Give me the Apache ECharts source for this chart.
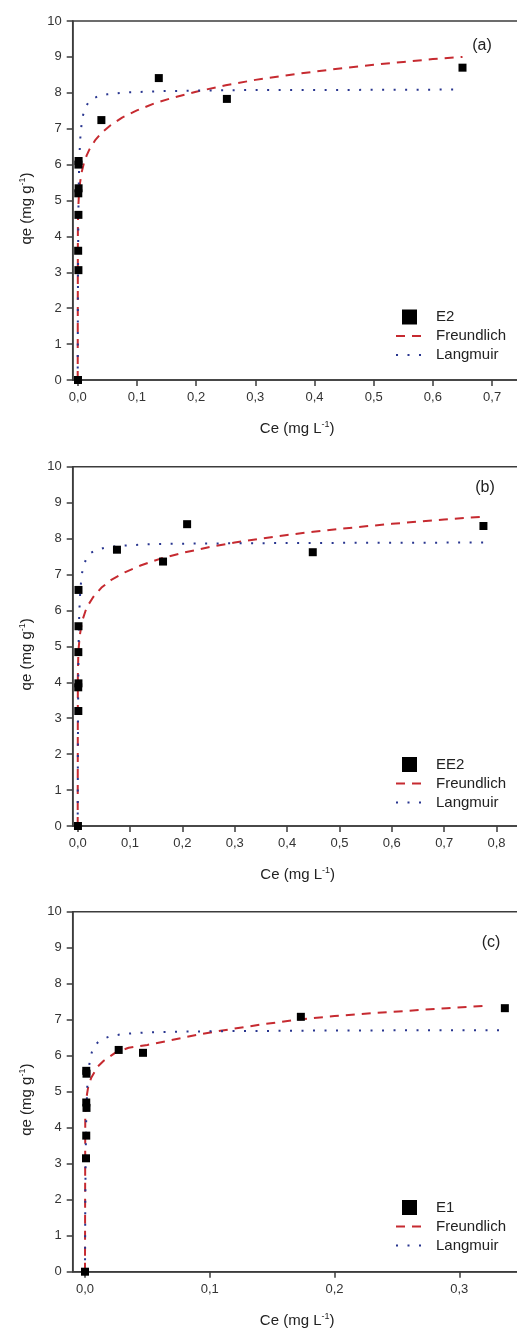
<!DOCTYPE html>
<html>
<head>
<meta charset="utf-8">
<title>Isotermas E2 / EE2 / E1</title>
<script src="https://cdn.jsdelivr.net/npm/echarts@6/dist/echarts.min.js"></script>
<style>
  html, body { margin: 0; padding: 0; background: #fff; }
  #grafico { width: 517px; height: 1331px; }
</style>
</head>
<body>
<div id="grafico"></div>
<script>
// ---- (a) E2 ----
const ceE2 = [0.0005, 0.0012, 0.0008, 0.0012, 0.0010, 0.0015, 0.0012, 0.0015, 0.040, 0.137, 0.252, 0.650];
const qeE2 = [0.00, 3.06, 3.60, 4.60, 5.20, 5.34, 6.00, 6.10, 7.24, 8.41, 7.83, 8.70];
const ceFreundA = [0, 0.0003, 0.001, 0.002, 0.004, 0.007, 0.01, 0.015, 0.02, 0.03, 0.04, 0.055, 0.075, 0.1, 0.13, 0.16, 0.2, 0.25, 0.3, 0.35, 0.4, 0.45, 0.5, 0.55, 0.6, 0.65];
const qeFreundA = [0, 4.28, 4.81, 5.14, 5.50, 5.81, 6.01, 6.25, 6.43, 6.69, 6.88, 7.09, 7.31, 7.51, 7.71, 7.86, 8.03, 8.21, 8.36, 8.48, 8.59, 8.69, 8.78, 8.86, 8.94, 9.00];
const ceLangA = [0, 0.0003, 0.0007, 0.0012, 0.002, 0.003, 0.005, 0.008, 0.012, 0.018, 0.025, 0.035, 0.05, 0.08, 0.15, 0.3, 0.45, 0.636];
const qeLangA = [0, 2.09, 3.63, 4.71, 5.66, 6.29, 6.91, 7.31, 7.56, 7.73, 7.83, 7.91, 7.96, 8.01, 8.05, 8.08, 8.08, 8.09];

// ---- (b) EE2 ----
const ceEE2 = [0.0005, 0.0012, 0.0010, 0.0014, 0.0012, 0.0015, 0.0015, 0.075, 0.163, 0.209, 0.449, 0.775];
const qeEE2 = [0.00, 3.20, 3.86, 3.97, 4.84, 5.56, 6.57, 7.69, 7.36, 8.40, 7.62, 8.35];
const ceFreundB = [0, 0.0003, 0.001, 0.002, 0.004, 0.007, 0.01, 0.015, 0.02, 0.03, 0.045, 0.065, 0.09, 0.12, 0.16, 0.2, 0.25, 0.3, 0.35, 0.4, 0.45, 0.5, 0.55, 0.6, 0.65, 0.7, 0.775];
const qeFreundB = [0, 4.18, 4.67, 4.98, 5.30, 5.58, 5.77, 5.99, 6.15, 6.38, 6.63, 6.86, 7.06, 7.25, 7.45, 7.60, 7.76, 7.89, 8.00, 8.10, 8.19, 8.27, 8.34, 8.41, 8.47, 8.53, 8.61];
const ceLangB = [0, 0.0003, 0.0007, 0.0012, 0.002, 0.003, 0.005, 0.008, 0.012, 0.018, 0.025, 0.035, 0.05, 0.08, 0.15, 0.3, 0.5, 0.775];
const qeLangB = [0, 1.82, 3.25, 4.31, 5.27, 5.93, 6.58, 7.02, 7.29, 7.48, 7.60, 7.68, 7.74, 7.80, 7.85, 7.87, 7.88, 7.89];

// ---- (c) E1 ----
const ceE1 = [0.0000, 0.0008, 0.0010, 0.0012, 0.0010, 0.0012, 0.0010, 0.027, 0.0465, 0.173, 0.3365];
const qeE1 = [0.00, 3.15, 3.78, 4.55, 4.70, 5.50, 5.58, 6.16, 6.08, 7.08, 7.32];
const ceFreundC = [0, 0.0002, 0.0006, 0.0012, 0.0025, 0.005, 0.01, 0.015, 0.025, 0.035, 0.05, 0.065, 0.085, 0.11, 0.14, 0.17, 0.2, 0.23, 0.26, 0.29, 0.323];
const qeFreundC = [0, 4.23, 4.60, 4.84, 5.12, 5.39, 5.69, 5.86, 6.10, 6.22, 6.30, 6.40, 6.55, 6.70, 6.86, 7.00, 7.10, 7.18, 7.25, 7.32, 7.39];
const ceLangC = [0, 0.0002, 0.0005, 0.001, 0.0018, 0.0027, 0.004, 0.0055, 0.0075, 0.01, 0.014, 0.02, 0.03, 0.05, 0.1, 0.2, 0.335];
const qeLangC = [0, 1.76, 3.16, 4.30, 5.12, 5.56, 5.89, 6.10, 6.25, 6.36, 6.46, 6.54, 6.60, 6.65, 6.68, 6.70, 6.71];

// ticks del eje X
const ticksA = [0, 0.1, 0.2, 0.3, 0.4, 0.5, 0.6, 0.7];
const ticksB = [0, 0.1, 0.2, 0.3, 0.4, 0.5, 0.6, 0.7, 0.8];
const ticksC = [0, 0.1, 0.2, 0.3];

const FONT = 'Liberation Sans, Arial, sans-serif';
const AXIS_COLOR = '#3c3c3c';
const RED = '#c62a30';
const BLUE = '#28358f';

const zip = (xs, ys) => xs.map((x, i) => [x, ys[i]]);
const coma = v => v.toFixed(1).replace('.', ',');

function ejeX(grid, min, max, ticks) {
    return {
        type: 'value', gridIndex: grid, min: min, max: max,
        name: 'Ce (mg L{sup|-1})', nameLocation: 'middle', nameGap: 40,
        nameTextStyle: {
            fontSize: 15, color: '#222', fontFamily: FONT, lineHeight: 18,
            rich: { sup: { fontSize: 9, verticalAlign: 'top', lineHeight: 10, color: '#222', fontFamily: FONT } }
        },
        splitLine: { show: false },
        axisLine: { onZero: false, lineStyle: { color: AXIS_COLOR, width: 1.5 } },
        axisTick: { customValues: ticks, length: 6, lineStyle: { color: AXIS_COLOR, width: 1.5 } },
        axisLabel: { customValues: ticks, formatter: coma, fontSize: 13, color: '#333', fontFamily: FONT, margin: 11 }
    };
}

function ejeY(grid) {
    return {
        type: 'value', gridIndex: grid, min: 0, max: 10, interval: 1,
        name: 'qe (mg g{sup|-1})', nameLocation: 'middle', nameGap: 36,
        nameTextStyle: {
            fontSize: 15, color: '#222', fontFamily: FONT, lineHeight: 18, padding: [0, 16, 0, 0],
            rich: { sup: { fontSize: 9, verticalAlign: 'top', lineHeight: 10, color: '#222', fontFamily: FONT } }
        },
        splitLine: { show: false },
        axisLine: { show: true, onZero: false, lineStyle: { color: AXIS_COLOR, width: 1.5 } },
        axisTick: { show: true, length: 6, lineStyle: { color: AXIS_COLOR, width: 1.5 } },
        axisLabel: { fontSize: 13, color: '#333', fontFamily: FONT, margin: 11 }
    };
}

function serie(name, grid, data, kind) {
    if (kind === 'pts') {
        return { name: name, type: 'scatter', xAxisIndex: grid, yAxisIndex: grid, data: data,
            symbol: 'rect', symbolSize: 8, itemStyle: { color: '#000', opacity: 1 }, z: 5 };
    }
    const dashed = kind === 'freund';
    return {
        name: name, type: 'line', xAxisIndex: grid, yAxisIndex: grid, data: data,
        showSymbol: false, symbol: 'none',
        itemStyle: { color: dashed ? RED : BLUE },
        lineStyle: dashed
            ? { color: RED, width: 2, type: [9, 7] }
            : { color: BLUE, width: 2, type: [2, 9.5] }
    };
}

// leyenda: cuadrado para los puntos, solo trazo para los modelos
const SQUARE = 'path://M0,0L10,0L10,10L0,10Z';
const sinSimbolo = { opacity: 0 };
function leyenda(top, first) {
    return {
        orient: 'vertical', left: 390, top: top,
        itemWidth: 27, itemHeight: 15, itemGap: 3,
        textStyle: { fontSize: 15, color: '#222', fontFamily: FONT, lineHeight: 16, padding: [0, 0, 0, 8] },
        data: [
            { name: first, icon: SQUARE, itemStyle: { color: '#000', opacity: 1 } },
            { name: 'Freundlich', itemStyle: sinSimbolo },
            { name: 'Langmuir', itemStyle: sinSimbolo }
        ]
    };
}

const chartDom = document.getElementById('grafico');
const myChart = echarts.init(chartDom, null, { renderer: 'canvas' });

const gridBox = { show: true, borderColor: AXIS_COLOR, borderWidth: 1.5, backgroundColor: 'transparent', outerBoundsMode: 'none', containLabel: false };

const option = {
    animation: false,
    backgroundColor: '#fff',
    grid: [
        Object.assign({ left: 72.7, top: 21, width: 449, height: 359 }, gridBox),
        Object.assign({ left: 72.7, top: 466.7, width: 450, height: 359.3 }, gridBox),
        Object.assign({ left: 72.7, top: 911.7, width: 449, height: 360 }, gridBox)
    ],
    xAxis: [
        ejeX(0, -0.00845, 0.75, ticksA),
        ejeX(1, -0.00955, 0.85, ticksB),
        ejeX(2, -0.00986, 0.35, ticksC)
    ],
    yAxis: [ejeY(0), ejeY(1), ejeY(2)],
    legend: [leyenda(304, 'E2'), leyenda(751.5, 'EE2'), leyenda(1194.5, 'E1')],
    graphic: [
        { type: 'text', x: 482, y: 46, style: { text: '(a)', fontSize: 16, fontFamily: FONT, fill: '#222', align: 'center', verticalAlign: 'middle' } },
        { type: 'text', x: 485, y: 488, style: { text: '(b)', fontSize: 16, fontFamily: FONT, fill: '#222', align: 'center', verticalAlign: 'middle' } },
        { type: 'text', x: 491, y: 943, style: { text: '(c)', fontSize: 16, fontFamily: FONT, fill: '#222', align: 'center', verticalAlign: 'middle' } }
    ],
    series: [
        serie('E2', 0, zip(ceE2, qeE2), 'pts'),
        serie('Freundlich', 0, zip(ceFreundA, qeFreundA), 'freund'),
        serie('Langmuir', 0, zip(ceLangA, qeLangA), 'lang'),
        serie('EE2', 1, zip(ceEE2, qeEE2), 'pts'),
        serie('Freundlich', 1, zip(ceFreundB, qeFreundB), 'freund'),
        serie('Langmuir', 1, zip(ceLangB, qeLangB), 'lang'),
        serie('E1', 2, zip(ceE1, qeE1), 'pts'),
        serie('Freundlich', 2, zip(ceFreundC, qeFreundC), 'freund'),
        serie('Langmuir', 2, zip(ceLangC, qeLangC), 'lang')
    ]
};

option && myChart.setOption(option);

window.addEventListener('resize', () => {
    myChart.resize();
});
</script>
</body>
</html>
